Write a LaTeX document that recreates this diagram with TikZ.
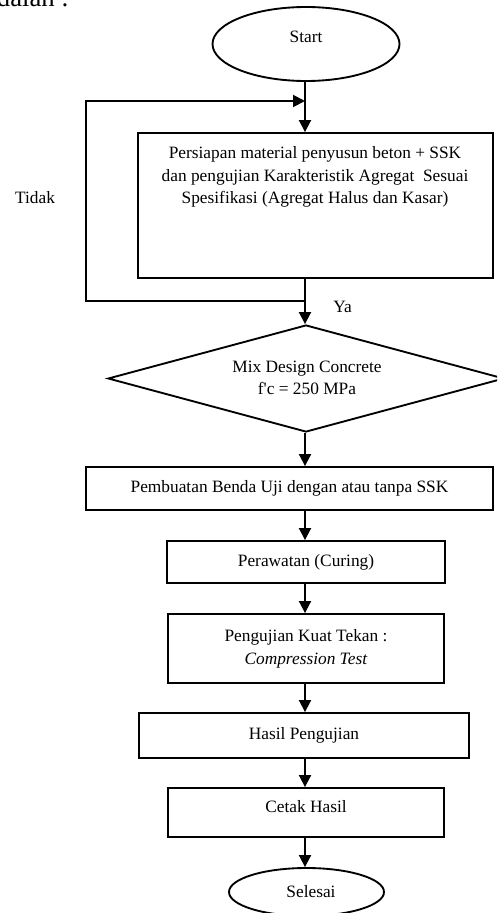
\documentclass[tikz,border=0pt]{standalone}
\usepackage{fontspec}
\setmainfont{Liberation Serif}
\usetikzlibrary{shapes.geometric,arrows.meta}

\begin{document}
\begin{tikzpicture}[x=0.75pt,y=-0.75pt,
  line width=1.4pt,
  every node/.style={font=\fontsize{13}{17}\selectfont},
  proc/.style={draw,rectangle,inner sep=0pt},
  term/.style={draw,ellipse,inner sep=0pt},
  decision/.style={draw,diamond,inner sep=0pt},
  caption/.style={align=center,inner sep=0pt},
  arr/.style={-{Triangle[length=9pt,width=9pt]}}
]
\useasboundingbox (0,0) rectangle (497,913);
\clip (0,0) rectangle (497,913);

% heading fragment above the chart
\node[anchor=base west,inner sep=0pt,font=\fontsize{20}{24}\selectfont] (head) at (-4,7) {dalah :};

% main spine
\coordinate (spine) at (305,0);
\coordinate (loopx) at (86,0);

% shapes
\node[term,minimum width=140.25pt,minimum height=55.5pt] (start) at (306,44) {};
\node[caption] (starttxt) at (306,37) {Start};

\node[proc,minimum width=266.25pt,minimum height=108.75pt] (prep) at (315.5,205.5) {};
\node[caption] (preptxt) at (315,177) {Persiapan material penyusun beton + SSK\\
  dan pengujian Karakteristik Agregat\ \ Sesuai\\
  Spesifikasi (Agregat Halus dan Kasar)};

\node[decision,minimum width=297pt,minimum height=80.25pt] (mix) at (306,378.5) {};
\node[caption] (mixtxt) at (307,378) {Mix Design Concrete\\ f\textquotesingle c = 250 MPa};

\node[proc,minimum width=305.25pt,minimum height=32.25pt] (make) at (289.5,488.5) {Pembuatan Benda Uji dengan atau tanpa SSK};
\node[proc,minimum width=208.5pt,minimum height=31.5pt] (cure) at (306,562) {Perawatan (Curing)};
\node[proc,minimum width=207pt,minimum height=51.75pt,align=center] (test) at (306,648.5) {Pengujian Kuat Tekan :\\ \textit{Compression Test}};
\node[proc,minimum width=247.5pt,minimum height=33.75pt] (result) at (304,735.5) {Hasil Pengujian};
\node[proc,minimum width=207pt,minimum height=36.75pt] (print) at (306,812.5) {};
\node[caption] (printtxt) at (306,807) {Cetak Hasil};
\node[term,minimum width=116.25pt,minimum height=36pt] (stop) at (306.5,892) {};
\node[caption] (stoptxt) at (311,892) {Selesai};

% labels of the decision loop
\node[caption] (tidak) at (35,198) {Tidak};
\node[caption] (ya) at (342.5,307) {Ya};

% connectors
\coordinate (loopin) at (305,101);
\coordinate (loopout) at (305,301);
\draw (start.south -| spine) -- (loopin);
\draw[arr] (loopin) -- (prep.north -| spine);
\draw (prep.south -| spine) -- (loopout);
\draw[arr] (loopout) -- (mix.north -| spine);
\draw[arr] (loopout) -- (loopout -| loopx) -- (loopin -| loopx) -- (loopin);
\draw[arr] (mix.south -| spine) -- (make.north -| spine);
\draw[arr] (make.south -| spine) -- (cure.north -| spine);
\draw[arr] (cure.south -| spine) -- (test.north -| spine);
\draw[arr] (test.south -| spine) -- (result.north -| spine);
\draw[arr] (result.south -| spine) -- (print.north -| spine);
\draw[arr] (print.south -| spine) -- (stop.north -| spine);
\end{tikzpicture}
\end{document}
